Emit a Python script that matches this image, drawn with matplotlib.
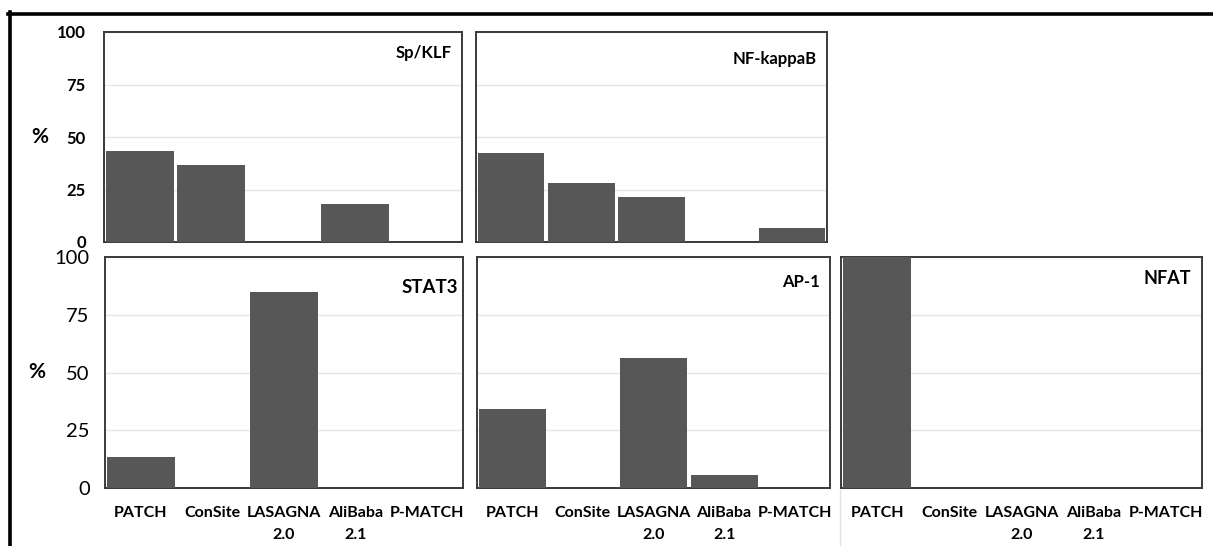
import matplotlib
matplotlib.use("Agg")
import matplotlib.pyplot as plt
from matplotlib.lines import Line2D

## Data
methods = ["PATCH", "ConSite", "LASAGNA\n2.0", "AliBaba\n2.1", "P-MATCH"]
sp_klf = [43.3, 36.7, 0, 18.1, 0]
nf_kappab = [42.4, 28.1, 21.4, 0, 6.7]
stat3 = [13.5, 0, 85.0, 0, 0]
ap1 = [34.3, 0, 56.1, 5.8, 0]
nfat = [100, 0, 0, 0, 0]
y_ticks = [0, 25, 50, 75, 100]

plt.rcParams['font.family'] = ['Lato', 'DejaVu Sans']

W, H = 1213, 546
fig = plt.figure(figsize=(W / 100, H / 100), dpi=100)


def box(l, t, r, b):
    return [l / W, 1 - b / H, (r - l) / W, (b - t) / H]


## Panels: (values, title, pixel box, show y labels, show x labels, title size, title y)
panels = [
    (sp_klf, "Sp/KLF", (104, 32, 462, 242), True, False, 12, 0.90),
    (nf_kappab, "NF-kappaB", (476, 32, 827, 242), False, False, 12, 0.87),
    (stat3, "STAT3", (105, 257, 463, 488), True, True, 13.5, 0.87),
    (ap1, "AP-1", (477, 257, 830, 488), False, True, 12, 0.89),
    (nfat, "NFAT", (841, 257, 1202, 488), False, True, 13, 0.905),
]

for vals, title, pbox, ylab, xlab, tsize, ty in panels:
    ax = fig.add_axes(box(*pbox))
    x = range(len(methods))
    ax.bar(x, vals, width=0.95, color="#575757", zorder=3)
    ax.set_xlim(-0.5, len(methods) - 0.5)
    ax.set_ylim(0, 100)
    ax.set_yticks(y_ticks)
    ax.grid(axis="y", color="#e6e6e6", linewidth=1.0, zorder=0)
    ax.tick_params(length=0)
    for s in ax.spines.values():
        s.set_color("#3a3a3a")
        s.set_linewidth(1.4)
    ax.set_xticks(list(x))
    if xlab:
        ax.set_xticklabels(methods, fontsize=11.5, fontweight="bold", linespacing=1.7)
        ax.tick_params(axis="x", pad=13)
    else:
        ax.set_xticklabels([])
    if ylab:
        top = pbox[1] < 100
        ax.set_yticklabels([str(t) for t in y_ticks], fontsize=12 if top else 14.5,
                           fontweight="bold" if top else "normal")
        ax.tick_params(axis="y", pad=13 if top else 11)
        ax.text(-0.18 if top else -0.19, 0.5, "%", transform=ax.transAxes,
                fontsize=15, fontweight="bold", ha="center", va="center")
    else:
        ax.set_yticklabels([])
    ax.text(0.97 if title != "STAT3" else 0.985, ty, title, transform=ax.transAxes,
            fontsize=tsize, fontweight="bold", ha="right", va="center", zorder=4)

## outer frame lines and faint separator
fig.add_artist(Line2D([8 / W, 1], [1 - 13.5 / H, 1 - 13.5 / H], color="black", linewidth=2.6))
fig.add_artist(Line2D([9.5 / W, 9.5 / W], [0, 1 - 12 / H], color="black", linewidth=2.6))
fig.add_artist(Line2D([840 / W, 840 / W], [0, 1 - 490 / H], color="#e2e2e2", linewidth=1))

fig.savefig("out.png", dpi=100)
